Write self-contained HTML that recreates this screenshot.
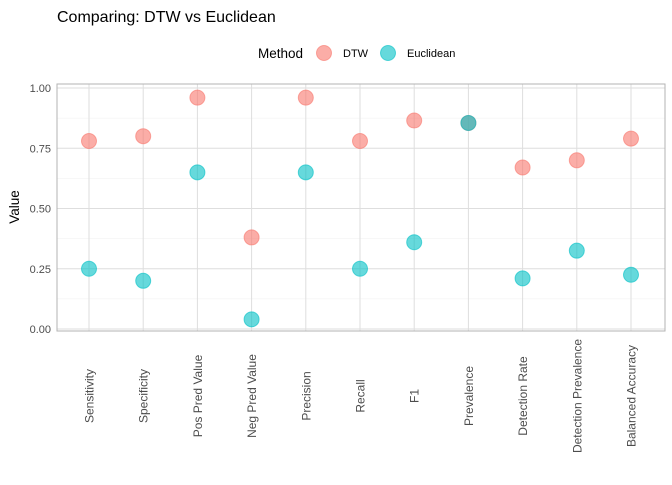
<!DOCTYPE html>
<html><head><meta charset="utf-8"><style>body{margin:0;background:#fff}svg{font-family:"Liberation Sans",Arial,sans-serif}</style></head>
<body>
<svg id="c" width="672" height="480" xmlns="http://www.w3.org/2000/svg">
<text x="57" y="22" font-size="16" fill="#000">Comparing: DTW vs Euclidean</text>
<g>
<text x="258" y="58" font-size="13.5" fill="#000">Method</text>
<circle cx="324" cy="53" r="7.5" fill="#F8766D" fill-opacity="0.6" stroke="#F8766D" stroke-opacity="0.6"/>
<text x="343" y="57" font-size="11" fill="#000">DTW</text>
<circle cx="388" cy="53" r="7.5" fill="#00BFC4" fill-opacity="0.6" stroke="#00BFC4" stroke-opacity="0.6"/>
<text x="407" y="57" font-size="11" fill="#000">Euclidean</text>
</g>
<text transform="translate(19,207) rotate(-90)" text-anchor="middle" font-size="13.5" fill="#000">Value</text>
<g id="grid"></g><g id="pts"></g>
</svg>
<script>
const categories=["Sensitivity","Specificity","Pos Pred Value","Neg Pred Value","Precision","Recall","F1","Prevalence","Detection Rate","Detection Prevalence","Balanced Accuracy"];
const dtwValues=[0.78,0.80,0.96,0.38,0.96,0.78,0.865,0.855,0.67,0.70,0.79];
const euclideanValues=[0.25,0.20,0.65,0.04,0.65,0.25,0.36,0.855,0.21,0.325,0.225];
const yTicks=[0,0.25,0.5,0.75,1];
const yTickLabels=["0.00","0.25","0.50","0.75","1.00"];
const NS="http://www.w3.org/2000/svg";
const L=57,R=665,T=84,B=331;
const x=i=>89+i*(631-89)/(categories.length-1);
const y=v=>329-v*(329-88);
const g=document.getElementById('grid'),p=document.getElementById('pts');
function mk(t,a,par){const e=document.createElementNS(NS,t);for(const k in a)e.setAttribute(k,a[k]);par.appendChild(e);return e;}
yTicks.forEach((v,i)=>{
  const ln=mk('line',{x1:L,x2:R,y1:y(v),y2:y(v),stroke:'#dedede','stroke-width':1},g);
  
  
  if(i<yTicks.length-1){const m=mk('line',{x1:L,x2:R,y1:y(v+0.125),y2:y(v+0.125),stroke:'#efefef','stroke-width':0.6},g);
  
  }
  const t=mk('text',{x:L-6,y:y(v)+4,'text-anchor':'end','font-size':11,fill:'#4d4d4d'},g);t.textContent=yTickLabels[i];
  
  
});
categories.forEach((c,i)=>{
  const ln=mk('line',{x1:x(i),x2:x(i),y1:T,y2:B,stroke:'#dedede','stroke-width':1},g);
  
  
  const t=mk('text',{transform:`translate(${x(i)+4.5},396) rotate(-90)`,'text-anchor':'middle','font-size':12,fill:'#4d4d4d'},g);t.textContent=c;
  
  
});
const fr=mk('rect',{x:L,y:T,width:R-L,height:B-T,fill:'none',stroke:'#b3b3b3','stroke-width':1},g);


categories.forEach((c,i)=>{
  const a=mk('circle',{cx:x(i),cy:y(dtwValues[i]),r:7.5,fill:'#F8766D','fill-opacity':0.6,stroke:'#F8766D','stroke-opacity':0.6},p);
  
  
  const b=mk('circle',{cx:x(i),cy:y(euclideanValues[i]),r:7.5,fill:'#00BFC4','fill-opacity':0.6,stroke:'#00BFC4','stroke-opacity':0.6},p);
  
  
});
</script>
</body></html>
